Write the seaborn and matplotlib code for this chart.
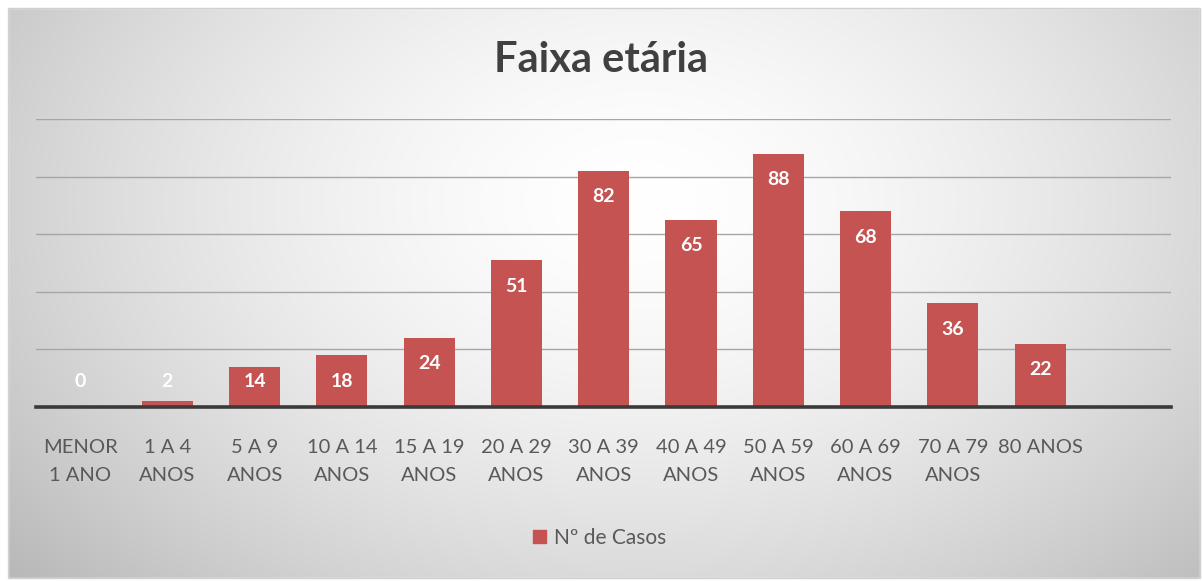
import numpy as np
import pandas as pd
import matplotlib
matplotlib.use("Agg")
import matplotlib.pyplot as plt
from matplotlib.patches import Rectangle
import seaborn as sns

categories = ["MENOR\n1 ANO", "1 A 4\nANOS", "5 A 9\nANOS", "10 A 14\nANOS", "15 A 19\nANOS",
              "20 A 29\nANOS", "30 A 39\nANOS", "40 A 49\nANOS", "50 A 59\nANOS",
              "60 A 69\nANOS", "70 A 79\nANOS", "80 ANOS"]
casos = [0, 2, 14, 18, 24, 51, 82, 65, 88, 68, 36, 22]
series_name = "Nº de Casos"
title = "Faixa etária"

sns.set_theme(style="white")
plt.rcParams['font.family'] = ['Lato', 'DejaVu Sans']

W, H = 1202, 581
fig = plt.figure(figsize=(W / 100, H / 100), dpi=100)

# background gradient
bg = fig.add_axes([0, 0, 1, 1], zorder=-10)
yy, xx = np.mgrid[0:H, 0:W]
cx, cy = 640, 200
d = np.sqrt(((xx - cx) / 760.0) ** 2 + ((yy - cy) / 520.0) ** 2)
v = 1.0 - 0.24 * np.clip(d, 0, 1.2) ** 1.6
img = np.dstack([v, v, v])
bg.imshow(img, extent=[0, W, H, 0], aspect="auto")
bg.set_xlim(0, W)
bg.set_ylim(H, 0)
bg.axis("off")
for r in [(0, 0, W, 8), (0, 578, W, 3), (0, 0, 8, H), (1200, 0, 2, H)]:
    bg.add_patch(Rectangle((r[0], r[1]), r[2], r[3], color="white", zorder=5))
bg.add_patch(Rectangle((8, 8), 1192, 570, fill=False, edgecolor="#D0D0D0", lw=1.0, zorder=6))

left = 36.4 / W
right = 1171 / W
bottom = 1 - 407 / H
top = 1 - 119 / H
ax = fig.add_axes([left, bottom, right - left, top - bottom])
ax.set_facecolor("none")

df = pd.DataFrame({"cat": categories, "casos": casos})
bar_color = "#C55352"
sns.barplot(data=df, x="cat", y="casos", color=bar_color, width=0.585,
            saturation=1, ax=ax, zorder=3, linewidth=0, edgecolor="none")
if ax.get_legend() is not None:
    ax.get_legend().remove()

ax.set_xlim(-0.5, 12.5)
ax.set_ylim(0, 100)
ax.set_yticks([20, 40, 60, 80, 100])
ax.yaxis.grid(True, color="#A6A6A6", lw=1.0)
ax.set_axisbelow(True)
ax.tick_params(axis="y", left=False, labelleft=False)
ax.tick_params(axis="x", bottom=False, labelsize=14.5, colors="#595959", pad=17)
for lbl in ax.get_xticklabels():
    lbl.set_linespacing(1.8)
for s in ["top", "right", "left"]:
    ax.spines[s].set_visible(False)
ax.spines["bottom"].set_color("#3A3A3A")
ax.spines["bottom"].set_linewidth(2.6)
ax.spines["bottom"].set_zorder(4)
ax.set_xlabel("")
ax.set_ylabel("")

for i, val in enumerate(casos):
    ypos = max(val - 9.0, 9.0)
    ax.text(i, ypos, str(val), ha="center", va="center", color="white",
            fontsize=14, fontweight="bold", zorder=5)

fig.text(601 / W, 1 - 60 / H, title, ha="center", va="center",
         fontsize=30, fontweight="bold", color="#404040")

handles = [Rectangle((0, 0), 1, 1, color=bar_color)]
fig.legend(handles, [series_name], loc="center", bbox_to_anchor=(600 / W, 1 - 538 / H),
           frameon=False, fontsize=15, handlelength=0.6, handleheight=0.6,
           handletextpad=0.4, labelcolor="#595959")

fig.savefig("out.png", dpi=100)
